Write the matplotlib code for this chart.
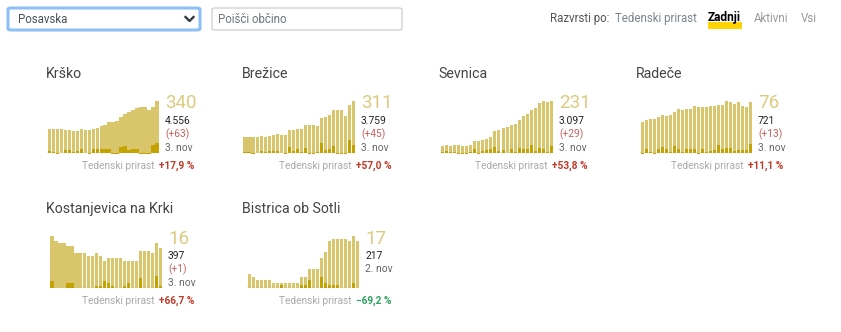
"""
Pregled po občinah: aktivni primeri v Posavski regiji (mini stolpični grafikoni)
"""

import matplotlib.pyplot as plt
from matplotlib.patches import FancyBboxPatch, Rectangle
from matplotlib.lines import Line2D

plt.rcParams['font.family'] = ['Roboto', 'DejaVu Sans']

# Podatki
names = ["Krško", "Brežice", "Sevnica", "Radeče",
         "Kostanjevica na Krki", "Bistrica ob Sotli"]

krsko_active = [157, 157, 157, 157, 150, 150, 144, 144, 157, 150, 150, 157, 164, 177,
                183, 203, 203, 209, 235, 255, 268, 281, 292, 301, 301, 281, 301, 340]
krsko_new = [13, 9, -6, 0, 17, 17, 7, 11, 24, 0, -6, 24, 24, 24,
             24, 24, -6, -6, 37, 44, 17, 24, 24, -6, -6, -6, 50, 63]

brezice_active = [96, 96, 96, 96, 101, 96, 101, 107, 113, 107, 107, 137, 137, 143,
                  143, 167, 167, 167, 161, 209, 215, 227, 257, 257, 257, 221, 287, 311]
brezice_new = [6, 6, -6, 0, 12, 6, 12, 12, 12, 0, -6, 36, 12, 24,
               6, 30, -6, -6, 6, 60, 18, 24, 42, -6, -6, -6, 78, 45]

sevnica_active = [32, 37, 32, 37, 37, 32, 32, 37, 54, 54, 59, 63, 72, 98,
                  103, 112, 116, 125, 129, 147, 165, 173, 191, 200, 222, 231, 226, 231]
sevnica_new = [4, 9, 4, 4, -4, -4, -4, 4, 18, -4, 9, 13, 18, 26,
               9, 13, 0, 18, 4, 22, 18, 18, 35, 9, 22, 18, 4, 29]

radece_active = [46, 49, 51, 51, 54, 57, 55, 57, 61, 66, 64, 66, 66, 70,
                 69, 69, 69, 70, 70, 72, 72, 78, 76, 73, 76, 70, 69, 76]
radece_new = [-2, 6, 1, -2, 6, 9, 6, 1, 10, 6, 1, 6, 6, 6,
              -2, 6, 1, 3, 4, 12, 6, 7, 7, 3, 4, 4, 4, 13]

kostanjevica_active = [21, 19, 18, 18, 17, 17, 14, 14, 14, 13, 13, 14, 13, 11,
                       12, 12, 12, 12, 11, 11, 11, 11, 15, 15, 15, 14, 18, 16]
kostanjevica_new = [3, 0, 0, 0, 2, 2, 0, 0, 0, 0, 0, 1, 1, 3,
                    2, 1, 0, 0, 1, 2, 0, 0, 4, 0, 0, 0, 5, 1]

bistrica_active = [5, 4, 3, 3, 3, 3, 2, 2, 2, 2, 2, 2, 2, 4,
                   4, 7, 7, 7, 11, 13, 17, 18, 18, 18, 18, 17, 19, 17]
bistrica_new = [0, 0, 0, 0, 0, 0, 0, 0, 1, 0, 0, 0, 0, 1,
                1, 3, 0, 0, 4, 2, 1, 1, 1, 0, 0, 0, 2, 0]

active_series = [krsko_active, brezice_active, sevnica_active,
                 radece_active, kostanjevica_active, bistrica_active]
new_series = [krsko_new, brezice_new, sevnica_new,
              radece_new, kostanjevica_new, bistrica_new]

totals = [4556, 3759, 3097, 721, 397, 217]
new_today = [63, 45, 29, 13, 1, None]
dates = ["3. nov", "3. nov", "3. nov", "3. nov", "3. nov", "2. nov"]
weekly_growth = [17.9, 57.0, 53.8, 11.1, 66.7, -69.2]

sort_options = ["Tedenski prirast", "Zadnji", "Aktivni", "Vsi"]

# Postavitev (piksli, y od zgoraj)
W, H = 841, 332
title_x = [46, 242, 438, 636, 46, 242]
chart_left = [47, 243, 441, 640, 50, 247]
chart_width = 112
right_edge = [194, 391, 587, 783, 194, 391]
row_y = [0, 0, 0, 0, 135, 135]
solid = {0: range(14, 28), 1: range(0, 3), 4: range(0, 8)}  # stolpci brez razmika

LIGHT = '#d8c56c'
DARK = '#c4a300'


def fx(x):
    return x / W


def fy(y):
    return 1 - y / H


def txt(fig, x, y, s, **kw):
    kw.setdefault('va', 'center')
    return fig.text(fx(x), fy(y), s, **kw)


def fmt_int(v):
    return f"{v:,}".replace(",", ".")


def fmt_growth(v):
    s = f"{abs(v):.1f}".replace(".", ",") + " %"
    return ("+" if v >= 0 else "\u2212") + s


def draw_header(fig):
    # izbirnik regije
    box = FancyBboxPatch((fx(8), fy(30)), 192 / W, 22 / H,
                         boxstyle="round,pad=0,rounding_size=0.004",
                         transform=fig.transFigure, facecolor='white',
                         edgecolor='#8ec0f5', linewidth=2.2)
    fig.patches.append(box)
    txt(fig, 18, 19.5, "Posavska", fontsize=8.3, color='#495057')
    fig.lines.append(Line2D([fx(185.5), fx(189.5), fx(193.5)], [fy(17), fy(21), fy(17)],
                            transform=fig.transFigure, color='#343a40', lw=1.7))
    # iskalno polje
    sbox = FancyBboxPatch((fx(212), fy(30)), 190 / W, 22 / H,
                          boxstyle="round,pad=0,rounding_size=0.004",
                          transform=fig.transFigure, facecolor='white',
                          edgecolor='#ced4da', linewidth=1)
    fig.patches.append(sbox)
    txt(fig, 218, 19.5, "Poišči občino", fontsize=8.3, color='#6c757d')
    # razvrščanje
    txt(fig, 609, 18.5, "Razvrsti po:", fontsize=8.3, color='#555555', ha='right')
    xs = [615, 708, 754, 801]
    fig.patches.append(Rectangle((fx(708), fy(29)), 34 / W, 6.5 / H,
                                 transform=fig.transFigure, facecolor='#ffd400',
                                 edgecolor='none'))
    for x, label in zip(xs, sort_options):
        if label == "Zadnji":
            txt(fig, x, 17.5, label, fontsize=8.6, color='black', fontweight='bold')
        elif label == "Tedenski prirast":
            txt(fig, x, 18.5, label, fontsize=8.3, color='#7b8590')
        else:
            txt(fig, x, 18.5, label, fontsize=8.3, color='#9a9a9a')


def draw_panel(fig, i):
    dy = row_y[i]
    base = 153 + dy
    top = 101 + dy
    left = chart_left[i]
    ax = fig.add_axes([fx(left), fy(base), chart_width / W, (base - top) / H])
    act = active_series[i]
    new = new_series[i]
    n = len(act)
    widths = [1.0 if k in solid.get(i, ()) else 0.75 for k in range(n)]
    ax.axhline(0, color='#e4e4e4', lw=1.2, zorder=0)
    ax.bar(range(n), act, width=widths, color=LIGHT, linewidth=0, zorder=1,
           antialiased=False)
    ax.bar(range(n), new, width=widths, color=DARK, linewidth=0, zorder=2,
           clip_on=False, antialiased=False)
    ax.set_xlim(-0.5, n - 0.5)
    ax.set_ylim(0, max(act))
    ax.axis('off')

    txt(fig, title_x[i], 74 + dy, names[i], fontsize=10.2, color='#444444')
    nx = left + chart_width + 6
    txt(fig, nx, 103.5 + dy, str(act[-1]), fontsize=13.5, color='#dccb7e')
    txt(fig, nx, 121 + dy, fmt_int(totals[i]), fontsize=7.4, color='#222222')
    if new_today[i] is not None:
        txt(fig, nx, 134 + dy, f"(+{new_today[i]})", fontsize=7.4, color='#c9605a')
        txt(fig, nx, 148 + dy, dates[i], fontsize=7.4, color='#666666')
    else:
        txt(fig, nx, 134 + dy, dates[i], fontsize=7.4, color='#666666')

    g = weekly_growth[i]
    gcol = '#bf3b2c' if g >= 0 else '#2ba25c'
    t = txt(fig, right_edge[i], 166 + dy, fmt_growth(g), fontsize=7.3,
            color=gcol, fontweight='bold', ha='right')
    fig.canvas.draw()
    bb = t.get_window_extent()
    txt(fig, bb.x0 - 4, 166 + dy, "Tedenski prirast", fontsize=7.3,
        color='#aaaaaa', ha='right')


def main():
    fig = plt.figure(figsize=(W / 100, H / 100), dpi=100)
    fig.patch.set_facecolor('white')
    draw_header(fig)
    for i in range(len(names)):
        draw_panel(fig, i)
    fig.savefig('out.png', dpi=100)
    plt.close(fig)


if __name__ == "__main__":
    main()
